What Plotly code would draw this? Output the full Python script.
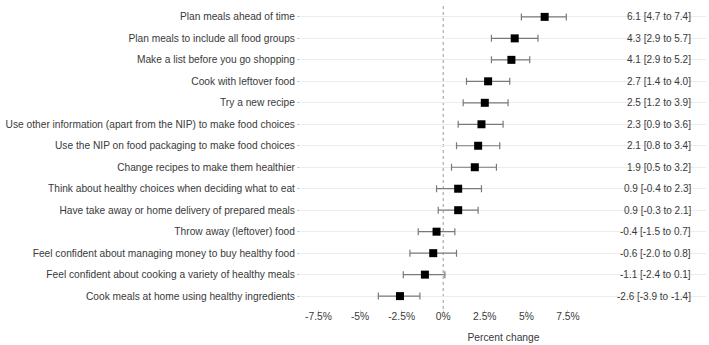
import plotly.graph_objects as go

labels = [
    "Plan meals ahead of time",
    "Plan meals to include all food groups",
    "Make a list before you go shopping",
    "Cook with leftover food",
    "Try a new recipe",
    "Use other information (apart from the NIP) to make food choices",
    "Use the NIP on food packaging to make food choices",
    "Change recipes to make them healthier",
    "Think about healthy choices when deciding what to eat",
    "Have take away or home delivery of prepared meals",
    "Throw away (leftover) food",
    "Feel confident about managing money to buy healthy food",
    "Feel confident about cooking a variety of healthy meals",
    "Cook meals at home using healthy ingredients",
]
estimate = [6.1, 4.3, 4.1, 2.7, 2.5, 2.3, 2.1, 1.9, 0.9, 0.9, -0.4, -0.6, -1.1, -2.6]
lower = [4.7, 2.9, 2.9, 1.4, 1.2, 0.9, 0.8, 0.5, -0.4, -0.3, -1.5, -2.0, -2.4, -3.9]
upper = [7.4, 5.7, 5.2, 4.0, 3.9, 3.6, 3.4, 3.2, 2.3, 2.1, 0.7, 0.8, 0.1, -1.4]
tick_vals = [-7.5, -5, -2.5, 0, 2.5, 5, 7.5]
tick_text = ["-7.5%", "-5%", "-2.5%", "0%", "2.5%", "5%", "7.5%"]
label_x = 15.0

font_family = "Liberation Sans, Arial, sans-serif"
text_color = "#3a3a3a"

fig = go.Figure()
fig.add_trace(go.Scatter(
    x=estimate, y=labels, mode="markers",
    marker=dict(symbol="square", size=8, color="black"),
    error_x=dict(type="data", symmetric=False,
                 array=[u - e for u, e in zip(upper, estimate)],
                 arrayminus=[e - l for e, l in zip(estimate, lower)],
                 color="#7a7a7a", thickness=1.2, width=3.5),
    showlegend=False, hoverinfo="skip",
))

for lab, e, lo, hi in zip(labels, estimate, lower, upper):
    fig.add_annotation(x=label_x, y=lab, xref="x", yref="y",
                       text=f"{e:.1f} [{lo:.1f} to {hi:.1f}]",
                       showarrow=False, xanchor="right", yanchor="middle",
                       font=dict(family=font_family, size=10, color=text_color))

fig.add_shape(type="line", x0=0, x1=0, y0=0, y1=1, xref="x", yref="paper",
              line=dict(color="#9a9a9a", width=1, dash="dot"), layer="below")

fig.update_layout(
    width=709, height=345,
    margin=dict(l=301, r=3, t=4, b=36),
    paper_bgcolor="white", plot_bgcolor="white",
    font=dict(family=font_family, size=10.2, color=text_color),
    xaxis=dict(range=[-8.55, 15.8], tickvals=tick_vals, ticktext=tick_text,
               showgrid=False, zeroline=False, showline=False,
               ticks="outside", ticklen=3, tickcolor="#cccccc",
               ticklabelstandoff=-5, automargin=False,
               title=dict(text="Percent change", standoff=12,
                          font=dict(size=10.3, color=text_color)),
               tickfont=dict(size=10.3, color=text_color)),
    yaxis=dict(categoryorder="array", categoryarray=list(reversed(labels)),
               range=[-0.6, 13.6], showgrid=True, gridcolor="#ececec", gridwidth=1,
               zeroline=False, showline=False, automargin=False,
               ticks="outside", ticklen=3, tickcolor="#cccccc",
               tickfont=dict(size=10.2, color=text_color)),
)

fig.write_html("out.html")
